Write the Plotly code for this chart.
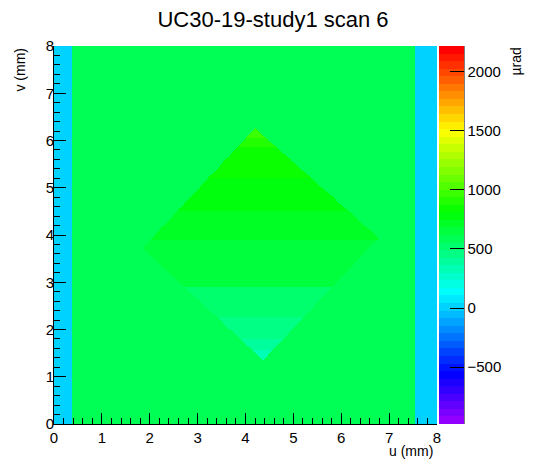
import colorsys
import numpy as np
import plotly.graph_objects as go

# map grid (mm) and levels
u_min, u_max, bin_mm = 0.0, 8.0, 0.02
v_min, v_max = 0.0, 8.0
strip_left_u = 0.37      # cyan strip on the left edge
strip_right_u = 7.54     # cyan strip on the right edge
strip_value = 0.0
background_value = 590.0  # mean level of the noisy area

# diamond corners (top, right, bottom, left)
diamond_u = [4.20, 6.78, 4.37, 1.85]
diamond_v = [6.26, 3.94, 1.35, 3.72]

# level of the diamond by height: band lower edge -> value
band_v_low = [6.05, 5.85, 5.20, 4.50, 3.90, 2.90, 2.25, 1.80, 1.55, 0.00]
band_z = [970, 906, 842, 778, 714, 650, 522, 458, 394, 330]

z_min, z_max = -980, 2216
cbar_ticks = [-500, 0, 500, 1000, 1500, 2000]
title = "UC30-19-study1 scan 6"

# build the bin grid
u = np.arange(u_min + bin_mm / 2, u_max, bin_mm)
v = np.arange(v_min + bin_mm / 2, v_max, bin_mm)
U, V = np.meshgrid(u, v)

z = np.full(U.shape, background_value)

# inside test for the (convex) diamond, corners go clockwise
inside = np.ones(U.shape, dtype=bool)
n = len(diamond_u)
for i in range(n):
    x0, y0 = diamond_u[i], diamond_v[i]
    x1, y1 = diamond_u[(i + 1) % n], diamond_v[(i + 1) % n]
    cross = (x1 - x0) * (V - y0) - (y1 - y0) * (U - x0)
    inside &= cross <= 0

band_lo = np.array(band_v_low)
row_band = np.array([np.argmax(vv >= band_lo) for vv in v])
diamond_rows = np.array(band_z, dtype=float)[row_band]
z = np.where(inside, diamond_rows[:, None], z)

z[:, u < strip_left_u] = strip_value
z[:, u > strip_right_u] = strip_value

# ROOT "pretty" palette: 50 steps violet -> red
n_col = 50
cols = []
for i in range(n_col - 1):
    hue = 280 - (i + 1) * (280.0 / n_col)
    r, g, b = colorsys.hls_to_rgb(hue / 360.0, 0.5, 1.0)
    cols.append(f"rgb({int(r*255)},{int(g*255)},{int(b*255)})")
cols.append("rgb(255,0,0)")
colorscale = []
for i, c in enumerate(cols):
    colorscale.append([i / n_col, c])
    colorscale.append([(i + 1) / n_col, c])

font = "Liberation Sans, Arial, sans-serif"

fig = go.Figure()
fig.add_trace(
    go.Heatmap(
        x=u,
        y=v,
        z=z,
        zmin=z_min,
        zmax=z_max,
        zsmooth=False,
        colorscale=colorscale,
        hoverinfo="skip",
        colorbar=dict(
            x=1.005,
            xanchor="left",
            xpad=0,
            y=0.5,
            yanchor="middle",
            ypad=0,
            len=1,
            lenmode="fraction",
            thickness=25,
            thicknessmode="pixels",
            outlinewidth=0,
            ticks="inside",
            ticklen=14,
            tickwidth=1,
            tickcolor="black",
            tickvals=cbar_ticks,
            tickfont=dict(size=15, family=font, color="black"),
        ),
    )
)

# black edge on the right of the palette
fig.add_shape(type="line", xref="paper", yref="paper",
              x0=1.0705, x1=1.0705, y0=0, y1=1,
              line=dict(color="black", width=1))

fig.add_annotation(text="u (mm)", xref="paper", yref="paper",
                   x=0.995, y=-0.045, xanchor="right", yanchor="top",
                   showarrow=False, font=dict(size=14, family=font, color="black"))
fig.add_annotation(text="v (mm)", xref="paper", yref="paper",
                   x=-0.09, y=1.0, xanchor="center", yanchor="top",
                   textangle=-90, showarrow=False,
                   font=dict(size=14, family=font, color="black"))
fig.add_annotation(text="µrad", xref="paper", yref="paper",
                   x=1.205, y=1.0, xanchor="center", yanchor="top",
                   textangle=-90, showarrow=False,
                   font=dict(size=14, family=font, color="black"))

axis_common = dict(
    range=[0, 8],
    dtick=1,
    showgrid=False,
    zeroline=False,
    showline=True,
    linecolor="black",
    linewidth=1,
    ticks="inside",
    tickcolor="black",
    tickwidth=1,
    tickfont=dict(size=15, family=font, color="black"),
)

fig.update_layout(
    title=dict(text=title, x=0.5, xref="container", xanchor="center",
               y=0.975, yanchor="top",
               font=dict(size=22, family=font, color="black")),
    xaxis=dict(**axis_common, ticklen=11,
               minor=dict(ticks="inside", dtick=0.2, ticklen=6, tickcolor="black")),
    yaxis=dict(**axis_common, ticklen=12, ticklabelstandoff=-4,
               minor=dict(ticks="inside", dtick=0.2, ticklen=6, tickcolor="black")),
    plot_bgcolor="white",
    paper_bgcolor="white",
    width=546,
    height=472,
    margin=dict(l=54, r=109, t=46, b=48),
)

fig.write_html("out.html", config={"displayModeBar": False},
               post_script="document.body.style.margin='0px';")
